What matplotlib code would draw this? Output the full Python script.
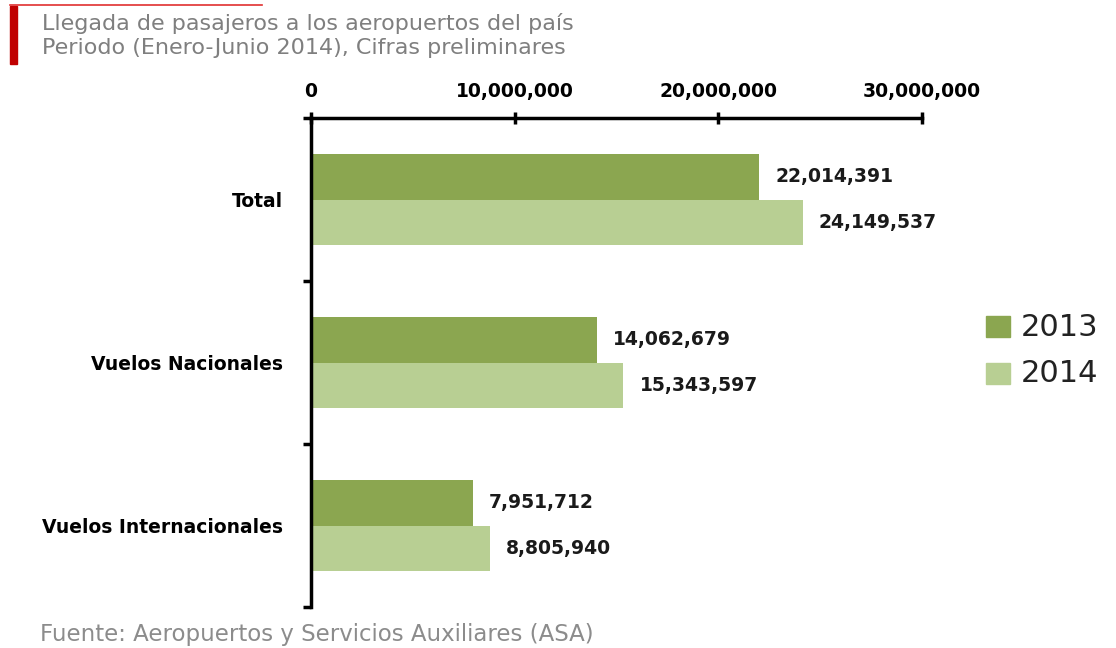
import numpy as np
import matplotlib.pyplot as plt
from matplotlib.patches import Rectangle
from matplotlib.lines import Line2D

# datos
categorias = ['Total', 'Vuelos Nacionales', 'Vuelos Internacionales']
pasajeros_2013 = [22014391, 14062679, 7951712]
pasajeros_2014 = [24149537, 15343597, 8805940]
ticks_x = [0, 10000000, 20000000, 30000000]

color_2013 = '#8BA650'
color_2014 = '#B8CF93'

plt.rcParams['font.family'] = ['DejaVu Sans']

fig = plt.figure(figsize=(11.16, 6.48), dpi=100)
ax = fig.add_axes([311/1116, 1-607/648, (922-311)/1116, (607-118)/648])

y = np.arange(len(categorias))
h = 0.28
ax.barh(y - h/2, pasajeros_2013, height=h, color=color_2013)
ax.barh(y + h/2, pasajeros_2014, height=h, color=color_2014)

for yi, v in zip(y - h/2, pasajeros_2013):
    ax.annotate(f'{v:,}', (v, yi), xytext=(16, 0), textcoords='offset pixels',
                va='center', ha='left', fontsize=13.5, fontweight='bold', color='#1a1a1a')
for yi, v in zip(y + h/2, pasajeros_2014):
    ax.annotate(f'{v:,}', (v, yi), xytext=(16, 0), textcoords='offset pixels',
                va='center', ha='left', fontsize=13.5, fontweight='bold', color='#1a1a1a')

ax.set_xlim(0, 30000000)
ax.set_ylim(2.5, -0.5)

# eje x arriba
ax.xaxis.tick_top()
ax.set_xticks(ticks_x)
ax.set_xticklabels([f'{t:,}' for t in ticks_x], fontsize=13.5, fontweight='bold')
ax.tick_params(axis='x', direction='inout', length=8, width=2.5, pad=8, color='black')

# eje y: marcas en los limites de categoria, etiquetas en el centro
ax.set_yticks([-0.5, 0.5, 1.5, 2.5])
ax.set_yticklabels([])
ax.set_yticks(y, minor=True)
ax.set_yticklabels(categorias, minor=True, fontsize=13.5, fontweight='bold')
ax.tick_params(axis='y', which='major', direction='out', length=6, width=2.5)
ax.tick_params(axis='y', which='minor', length=0, pad=20)

for s in ['right', 'bottom']:
    ax.spines[s].set_visible(False)
for s in ['left', 'top']:
    ax.spines[s].set_linewidth(2.5)

# titulo
fig.text(42/1116, 1-24/648, 'Llegada de pasajeros a los aeropuertos del país',
         fontsize=16, color='#7f7f7f', va='center')
fig.text(42/1116, 1-48/648, 'Periodo (Enero-Junio 2014), Cifras preliminares',
         fontsize=16, color='#7f7f7f', va='center')
fig.patches.append(Rectangle((10/1116, 1-64/648), 7/1116, 58/648,
                             transform=fig.transFigure, color='#C00000'))
fig.lines.append(Line2D([10/1116, 262/1116], [1-5/648, 1-5/648],
                        transform=fig.transFigure, color='#E03030', lw=1.2))

# leyenda
fig.patches.append(Rectangle((986/1116, 1-337/648), 24/1116, 21/648,
                             transform=fig.transFigure, color=color_2013))
fig.patches.append(Rectangle((986/1116, 1-384/648), 24/1116, 21/648,
                             transform=fig.transFigure, color=color_2014))
fig.text(1021/1116, 1-327/648, '2013', fontsize=22, color='#222222', va='center')
fig.text(1021/1116, 1-374/648, '2014', fontsize=22, color='#222222', va='center')

# fuente
fig.text(40/1116, 1-634/648, 'Fuente: Aeropuertos y Servicios Auxiliares (ASA)',
         fontsize=16.5, color='#8c8c8c', va='center')

fig.savefig('out.png', dpi=100)
